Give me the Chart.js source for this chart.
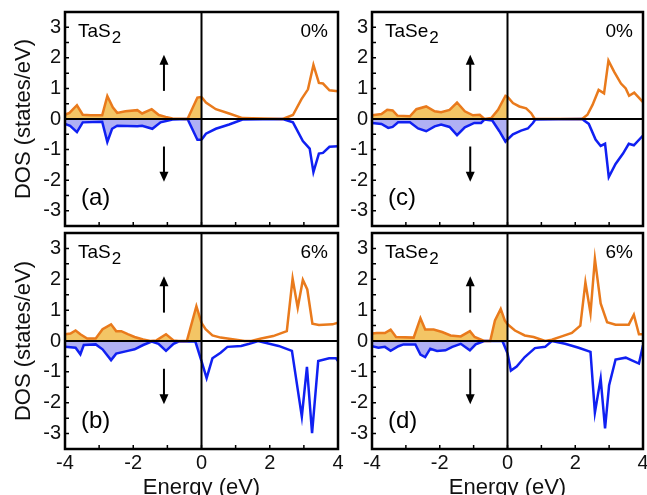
<!DOCTYPE html>
<html>
<head>
<meta charset="utf-8">
<script src="https://cdn.jsdelivr.net/npm/chart.js@4.4.1/dist/chart.umd.min.js"></script>
<style>
  html, body { margin: 0; padding: 0; background: #fff; overflow: hidden; width: 647px; height: 495px; }
  canvas { position: absolute; }
</style>
</head>
<body>
<canvas id="pa" width="345" height="232" style="left:0;top:0"></canvas>
<canvas id="pb" width="352" height="277" style="left:0;top:228px"></canvas>
<canvas id="pc" width="317" height="232" style="left:330px;top:0"></canvas>
<canvas id="pd" width="317" height="277" style="left:330px;top:228px"></canvas>
<script>
// tick labels
const xTicks = [-4, -2, 0, 2, 4];
const yTicks = [-3, -2, -1, 0, 1, 2, 3];

// (a) TaS2, 0% strain
const aUpE = [-4, -3.87, -3.65, -3.48, -3.25, -2.91, -2.76, -2.6, -2.47, -2.23, -1.88, -1.74, -1.46, -1.25, -1.05, -0.85, -0.41, -0.12, 0, 0.13, 0.42, 0.81, 1.2, 2.38, 2.68, 2.93, 3.12, 3.28, 3.44, 3.56, 3.75, 4];
const aUp = [0.14, 0.2, 0.45, 0.14, 0.12, 0.12, 0.75, 0.38, 0.2, 0.25, 0.29, 0.18, 0.32, 0.13, 0.07, 0.02, 0, 0.7, 0.72, 0.54, 0.32, 0.18, 0.03, 0, 0.13, 0.65, 0.97, 1.77, 1.18, 1.16, 0.94, 0.91];
const aDnE = [-4, -3.85, -3.65, -3.48, -2.91, -2.76, -2.62, -2.47, -1.88, -1.74, -1.44, -1.2, -0.85, -0.41, -0.12, 0, 0.13, 0.42, 0.81, 1.2, 2.38, 2.68, 2.97, 3.17, 3.28, 3.44, 3.56, 3.75, 4];
const aDn = [-0.16, -0.22, -0.43, -0.11, -0.09, -0.75, -0.32, -0.22, -0.24, -0.22, -0.32, -0.11, -0.02, 0, -0.68, -0.68, -0.48, -0.32, -0.18, -0.02, 0, -0.11, -0.72, -0.97, -1.74, -1.13, -1.11, -0.91, -0.89];

// (b) TaS2, 6% strain
const bUpE = [-4, -3.84, -3.69, -3.55, -3.35, -3.1, -2.9, -2.65, -2.5, -2.35, -2.16, -1.96, -1.71, -1.5, -1.32, -1.04, -0.82, -0.67, -0.43, -0.15, 0, 0.12, 0.32, 0.56, 0.96, 1.26, 1.46, 1.75, 2.1, 2.5, 2.67, 2.82, 2.97, 3.1, 3.25, 3.44, 3.84, 4];
const bUp = [0.22, 0.24, 0.34, 0.22, 0.08, 0.08, 0.38, 0.54, 0.32, 0.32, 0.22, 0.13, 0.05, 0, 0.02, 0.22, 0.02, 0, 0, 1.13, 0.59, 0.38, 0.18, 0.11, 0.05, 0, 0, 0.08, 0.16, 0.32, 2.02, 1.08, 1.98, 1.67, 0.56, 0.52, 0.54, 0.59];
const bDnE = [-4, -3.69, -3.55, -3.45, -3.1, -2.9, -2.65, -2.5, -2.16, -1.96, -1.71, -1.46, -1.26, -1.04, -0.82, -0.67, -0.18, 0, 0.15, 0.32, 0.56, 0.76, 1.16, 1.4, 1.66, 2.26, 2.65, 2.94, 3.09, 3.24, 3.42, 3.74, 3.94, 4];
const bDn = [-0.19, -0.22, -0.43, -0.13, -0.11, -0.27, -0.62, -0.41, -0.32, -0.27, -0.13, -0.02, -0.09, -0.32, -0.09, -0.02, -0.02, -0.65, -1.2, -0.56, -0.38, -0.19, -0.16, -0.09, 0, -0.16, -0.32, -2.45, -0.84, -2.99, -0.65, -0.56, -0.56, -0.65];

// (c) TaSe2, 0% strain
const cUpE = [-4, -3.72, -3.55, -3.39, -3.25, -2.88, -2.69, -2.4, -2.15, -1.96, -1.71, -1.49, -1.26, -1.02, -0.82, -0.68, -0.48, -0.28, -0.06, 0, 0.16, 0.35, 0.55, 0.7, 0.8, 2.2, 2.36, 2.51, 2.69, 2.85, 2.98, 3.15, 3.35, 3.49, 3.59, 3.74, 4];
const cUp = [0.12, 0.16, 0.3, 0.28, 0.11, 0.09, 0.32, 0.41, 0.25, 0.22, 0.3, 0.54, 0.25, 0.12, 0.14, 0, 0.03, 0.3, 0.76, 0.73, 0.52, 0.41, 0.35, 0.19, 0.01, 0, 0.14, 0.46, 0.95, 0.84, 1.91, 1.54, 1.16, 1.0, 0.76, 0.86, 0.55];
const cDnE = [-4, -3.72, -3.52, -3.39, -3.23, -2.88, -2.64, -2.4, -2.15, -1.96, -1.71, -1.49, -1.26, -0.98, -0.78, -0.68, -0.45, -0.24, -0.06, 0, 0.16, 0.4, 0.6, 0.75, 0.82, 2.2, 2.4, 2.6, 2.75, 2.88, 2.99, 3.19, 3.41, 3.58, 3.73, 4];
const cDn = [-0.13, -0.16, -0.29, -0.26, -0.11, -0.11, -0.31, -0.4, -0.24, -0.18, -0.26, -0.53, -0.27, -0.13, -0.13, -0.02, -0.05, -0.4, -0.74, -0.67, -0.5, -0.38, -0.31, -0.13, -0.02, 0, -0.16, -0.67, -0.88, -0.81, -1.9, -1.47, -1.13, -0.81, -0.86, -0.54];

// (d) TaSe2, 6% strain
const dUpE = [-4, -3.86, -3.62, -3.45, -3.29, -2.77, -2.57, -2.43, -2.18, -1.93, -1.68, -1.38, -1.11, -0.97, -0.69, -0.51, -0.37, -0.2, -0.08, 0, 0.22, 0.51, 0.77, 1.11, 1.31, 1.6, 1.9, 2.15, 2.3, 2.45, 2.58, 2.75, 2.94, 3.19, 3.58, 3.73, 3.88, 4];
const dUp = [0.24, 0.26, 0.26, 0.37, 0.13, 0.11, 0.74, 0.37, 0.37, 0.29, 0.18, 0.15, 0.32, 0.13, 0, 0, 0.67, 1.04, 0.67, 0.54, 0.34, 0.18, 0.13, 0, 0.04, 0.15, 0.26, 0.5, 1.9, 0.9, 2.66, 1.22, 0.61, 0.53, 0.53, 0.85, 0.22, 0.22];
const dDnE = [-4, -3.81, -3.62, -3.45, -3.22, -3.07, -2.72, -2.57, -2.43, -2.28, -2.08, -1.83, -1.63, -1.38, -1.11, -0.94, -0.69, -0.15, 0, 0.1, 0.27, 0.51, 0.81, 1.11, 1.31, 1.7, 2.1, 2.45, 2.58, 2.75, 2.88, 3.0, 3.19, 3.49, 3.88, 4];
const dDn = [-0.17, -0.22, -0.19, -0.32, -0.17, -0.11, -0.11, -0.44, -0.52, -0.25, -0.32, -0.3, -0.19, -0.09, -0.3, -0.11, 0, 0, -0.4, -0.96, -0.83, -0.52, -0.23, -0.19, 0, -0.09, -0.22, -0.35, -2.32, -1.22, -2.83, -1.43, -0.6, -0.54, -0.73, -0.14];

const UP_LINE = '#e97a1c', UP_FILL = '#f3c565';
const DN_LINE = '#1020f2', DN_FILL = '#b0b0f4';
const FONT = '"Liberation Sans", Arial, Helvetica, sans-serif';
Chart.defaults.font.family = FONT;
Chart.defaults.color = '#111';

// occupied part (E <= 0) is filled, the rest is only a line
function spinSets(E, V, line, fillCol) {
  const pts = E.map((e, i) => ({ x: e, y: V[i] }));
  return [
    { data: pts.filter(p => p.x <= 0), borderColor: line, backgroundColor: fillCol, fill: 'origin' },
    { data: pts.filter(p => p.x >= 0), borderColor: line, fill: false }
  ];
}

function arrow(ctx, px, y0, y1) {
  const dir = y1 < y0 ? 1 : -1; // 1 = pointing up
  ctx.lineWidth = 2;
  ctx.beginPath();
  ctx.moveTo(px, y0);
  ctx.lineTo(px, y1 + dir * 8);
  ctx.stroke();
  ctx.beginPath();
  ctx.moveTo(px, y1);
  ctx.lineTo(px - 4.5, y1 + dir * 10);
  ctx.lineTo(px + 4.5, y1 + dir * 10);
  ctx.closePath();
  ctx.fill();
}

const panelDecor = {
  id: 'panelDecor',
  afterDatasetsDraw(chart, args, opts) {
    const { ctx, chartArea: a, scales: { x, y } } = chart;
    const x0 = x.getPixelForValue(0), y0 = y.getPixelForValue(0);
    ctx.save();
    ctx.strokeStyle = '#000';
    ctx.fillStyle = '#000';

    // zero lines
    ctx.lineWidth = 2;
    ctx.beginPath();
    ctx.moveTo(a.left, y0); ctx.lineTo(a.right, y0);
    ctx.moveTo(x0, a.top); ctx.lineTo(x0, a.bottom);
    ctx.stroke();

    // inward ticks
    ctx.lineWidth = 1.5;
    ctx.beginPath();
    for (let v = -3; v <= 3; v += 0.5) {
      const py = y.getPixelForValue(v);
      ctx.moveTo(a.left, py); ctx.lineTo(a.left + 4, py);
    }
    for (let e = -3; e <= 3; e += 1) {
      const px = x.getPixelForValue(e);
      ctx.moveTo(px, a.bottom); ctx.lineTo(px, a.bottom - 4);
    }
    ctx.stroke();

    // frame
    ctx.lineWidth = 2.5;
    ctx.strokeRect(a.left, a.top, a.right - a.left, a.bottom - a.top);

    // spin arrows
    const ax = x.getPixelForValue(-1.1);
    arrow(ctx, ax, y.getPixelForValue(0.92), y.getPixelForValue(2.1));
    arrow(ctx, ax, y.getPixelForValue(-0.9), y.getPixelForValue(-2.05));

    // labels
    ctx.textBaseline = 'middle';
    ctx.font = '19px ' + FONT;
    ctx.textAlign = 'left';
    const lx = a.left + 13, ly = a.top + 20;
    ctx.fillText(opts.mat, lx, ly);
    const w = ctx.measureText(opts.mat).width;
    ctx.font = '17px ' + FONT;
    ctx.fillText('2', lx + w + 1, ly + 6);
    ctx.font = '19px ' + FONT;
    ctx.textAlign = 'right';
    ctx.fillText(opts.strain, a.right - 10, ly);
    ctx.font = '24px ' + FONT;
    ctx.textAlign = 'left';
    ctx.fillText(opts.tag, a.left + 16, a.bottom - 28);
    ctx.restore();
  }
};

function makePanel(id, upE, up, dnE, dn, p) {
  new Chart(document.getElementById(id), {
    type: 'line',
    data: {
      datasets: [
        ...spinSets(upE, up, UP_LINE, UP_FILL),
        ...spinSets(dnE, dn, DN_LINE, DN_FILL)
      ]
    },
    options: {
      responsive: false,
      animation: false,
      layout: { padding: { top: p.top, right: p.right, left: 0, bottom: 0 } },
      elements: {
        point: { radius: 0 },
        line: { borderWidth: 2.5, tension: 0 }
      },
      plugins: {
        legend: { display: false },
        tooltip: { enabled: false },
        panelDecor: { mat: p.mat, strain: p.strain, tag: p.tag }
      },
      scales: {
        x: {
          type: 'linear',
          min: -4, max: 4,
          afterBuildTicks: s => { s.ticks = xTicks.map(v => ({ value: v })); },
          afterFit: s => { s.height = p.xH; s.paddingLeft = 0; s.paddingRight = 0; },
          grid: { display: false, drawTicks: false },
          border: { display: false },
          ticks: { display: p.xLabels, padding: 2, font: { size: 20 }, color: '#111', maxRotation: 0 },
          title: { display: p.xLabels, text: 'Energy (eV)', font: { size: 22 }, color: '#111', padding: { top: 0, bottom: 4 } }
        },
        y: {
          type: 'linear',
          min: -3.5, max: 3.5,
          afterBuildTicks: s => { s.ticks = yTicks.map(v => ({ value: v })); },
          afterFit: s => { s.width = p.yW; s.paddingTop = 0; s.paddingBottom = 0; },
          grid: { display: false, drawTicks: false },
          border: { display: false },
          ticks: { padding: 4, font: { size: 20 }, color: '#111' },
          title: { display: p.yTitle, text: 'DOS (states/eV)', font: { size: 22 }, color: '#111', padding: { top: 11, bottom: 0 } }
        }
      }
    },
    plugins: [panelDecor]
  });
}

makePanel('pa', aUpE, aUp, aDnE, aDn, { mat: 'TaS', strain: '0%', tag: '(a)', yTitle: true, xLabels: false, yW: 65, top: 12, right: 7, xH: 6 });
makePanel('pb', bUpE, bUp, bDnE, bDn, { mat: 'TaS', strain: '6%', tag: '(b)', yTitle: true, xLabels: true, yW: 65, top: 5, right: 14, xH: 56 });
makePanel('pc', cUpE, cUp, cDnE, cDn, { mat: 'TaSe', strain: '0%', tag: '(c)', yTitle: false, xLabels: false, yW: 42, top: 12, right: 4, xH: 6 });
makePanel('pd', dUpE, dUp, dDnE, dDn, { mat: 'TaSe', strain: '6%', tag: '(d)', yTitle: false, xLabels: true, yW: 42, top: 5, right: 4, xH: 56 });
</script>
</body>
</html>
